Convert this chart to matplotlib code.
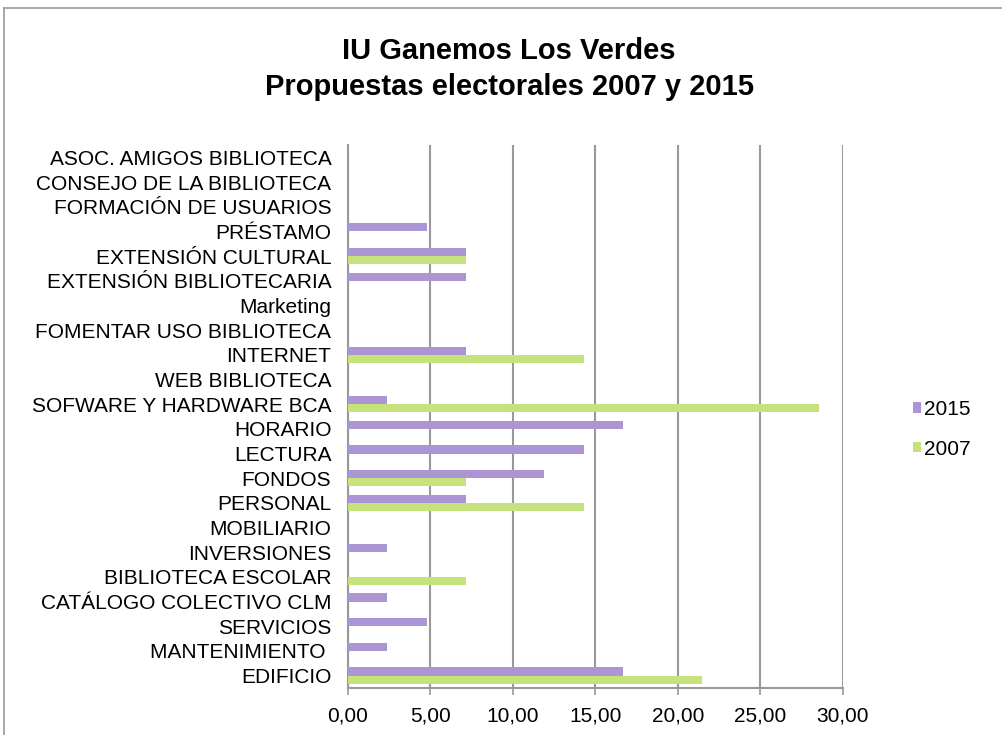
import matplotlib
matplotlib.use("Agg")
import matplotlib.pyplot as plt
from matplotlib.lines import Line2D
import numpy as np

plt.rcParams['font.family'] = ['Liberation Sans', 'DejaVu Sans']

# categories from bottom to top
categorias = ['EDIFICIO', 'MANTENIMIENTO ', 'SERVICIOS', 'CATÁLOGO COLECTIVO CLM',
              'BIBLIOTECA ESCOLAR', 'INVERSIONES', 'MOBILIARIO', 'PERSONAL', 'FONDOS',
              'LECTURA', 'HORARIO', 'SOFWARE Y HARDWARE BCA', 'WEB BIBLIOTECA',
              'INTERNET', 'FOMENTAR USO BIBLIOTECA', 'Marketing',
              'EXTENSIÓN BIBLIOTECARIA', 'EXTENSIÓN CULTURAL', 'PRÉSTAMO',
              'FORMACIÓN DE USUARIOS', 'CONSEJO DE LA BIBLIOTECA',
              'ASOC. AMIGOS BIBLIOTECA']
v2015 = [16.67, 2.38, 4.76, 2.38, 0, 2.38, 0, 7.14, 11.90, 14.29, 16.67, 2.38, 0,
         7.14, 0, 0, 7.14, 7.14, 4.76, 0, 0, 0]
v2007 = [21.43, 0, 0, 0, 7.14, 0, 0, 14.29, 7.14, 0, 0, 28.57, 0,
         14.29, 0, 0, 0, 7.14, 0, 0, 0, 0]
xticks = [0, 5, 10, 15, 20, 25, 30]

fig = plt.figure(figsize=(10.02, 7.35), dpi=100)
ax = fig.add_axes([0.3473, 0.064, 0.494, 0.7387])

y = np.arange(len(categorias))
h = 0.33
ax.barh(y + h / 2, v2015, height=h, color='#ab95d4', label='2015', zorder=3)
ax.barh(y - h / 2, v2007, height=h, color='#c5e27c', label='2007', zorder=3)

ax.set_ylim(-0.5, len(categorias) - 0.5)
ax.set_xlim(0, 30)
ax.set_yticks(y)
ax.set_yticklabels(categorias, fontsize=15)
ax.set_xticks(xticks)
ax.xaxis.set_major_formatter(plt.FuncFormatter(lambda v, p: ('%.2f' % v).replace('.', ',')))
ax.tick_params(axis='x', labelsize=15)
ax.tick_params(axis='y', length=0, pad=12)
ax.tick_params(axis='x', length=5, color='#999999', width=1.2, pad=8)
ax.grid(axis='x', color='#999999', linewidth=1.5, zorder=0)
ax.set_axisbelow(True)
for s in ['top', 'right']:
    ax.spines[s].set_visible(False)
for s in ['left', 'bottom']:
    ax.spines[s].set_color('#999999')
    ax.spines[s].set_linewidth(1.5)

fig.text(0.508, 0.906, 'IU Ganemos Los Verdes\nPropuestas electorales 2007 y 2015',
         ha='center', va='center', fontsize=21, fontweight='bold', linespacing=1.4)

fig.legend(loc='center left', bbox_to_anchor=(0.892, 0.416), frameon=False,
           fontsize=15, handlelength=0.4, handleheight=0.4, handletextpad=0.15,
           labelspacing=1.0)

fig.add_artist(Line2D([0.004, 0.004], [0, 0.989], color='#999999', lw=1.2))
fig.add_artist(Line2D([0.004, 1], [0.989, 0.989], color='#999999', lw=1.2))

fig.savefig('out.png', dpi=100)
